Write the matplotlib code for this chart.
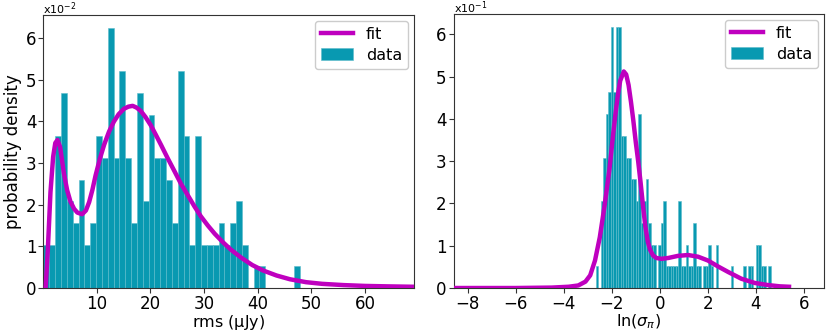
import numpy as np
import matplotlib
matplotlib.use("Agg")
import matplotlib.pyplot as plt
from matplotlib.ticker import FuncFormatter

# ---------------- data ----------------
# left panel: rms histogram (counts per bin) and fitted curve (units of 1e-2)
rms_bin_start = 0.1
rms_bin_width = 1.087
rms_counts = [2, 2, 7, 9, 4, 3, 5, 2, 3, 7, 6, 12, 6, 10, 6, 3, 9, 4, 8, 6,
              6, 5, 3, 10, 7, 2, 7, 2, 2, 2, 3, 2, 3, 4, 2, 0, 1, 1, 0, 0,
              0, 0, 0, 1]
rms_fit_x = [0.5, 0.9, 1.4, 1.9, 2.3, 2.7, 3.2, 3.9, 4.5, 5.1, 5.8, 6.4, 7.3,
             8.0, 8.6, 9.2, 9.8, 10.6, 11.4, 12.3, 13.2, 14.1, 15.1, 15.9,
             16.7, 17.4, 18.2, 19.1, 20.1, 21.0, 22.0, 23.2, 24.5, 25.7,
             27.0, 28.2, 29.4, 30.7, 32.0, 33.5, 35.0, 37.0, 39.0, 41.0,
             43.5, 46.0, 49.0, 52.0, 56.0, 60.0, 64.0, 69.0]
rms_fit_y = [0.0, 0.9, 2.3, 3.15, 3.48, 3.55, 3.38, 2.75, 2.35, 2.08, 1.90,
             1.81, 1.77, 1.86, 2.06, 2.35, 2.70, 3.10, 3.44, 3.75, 3.99, 4.17,
             4.30, 4.35, 4.37, 4.33, 4.25, 4.10, 3.90, 3.68, 3.43, 3.12, 2.80,
             2.50, 2.22, 1.96, 1.72, 1.50, 1.30, 1.10, 0.92, 0.72, 0.55, 0.42,
             0.30, 0.21, 0.14, 0.10, 0.07, 0.05, 0.04, 0.03]

# right panel: ln(sigma_pi) histogram and fitted curve (units of 1e-1)
ls_bin_start = -2.66
ls_bin_width = 0.104
ls_counts = [1, 0, 4, 6, 8, 9, 12, 9, 12, 12, 7, 7, 6, 6, 5, 5, 4, 8, 3, 4,
             5, 3, 2, 2, 0, 2, 3, 4, 1, 1, 1, 1, 1, 4, 1, 1, 2, 1, 1, 3,
             1, 1, 0, 1, 1, 2, 1, 0, 2, 0, 0, 0, 0, 0, 1, 0, 0, 0, 0, 1,
             0, 1, 1, 0, 2, 2, 1, 1, 0, 1]
ls_fit_x = [-8.6, -6.0, -4.5, -3.8, -3.4, -3.1, -2.9, -2.7, -2.5, -2.3,
            -2.1, -1.95, -1.85, -1.75, -1.65, -1.5, -1.4, -1.3, -1.2, -1.1,
            -1.0, -0.9, -0.8, -0.7, -0.6, -0.5, -0.4, -0.28, -0.14, 0.07,
            0.35, 0.76, 1.18, 1.6, 2.01, 2.43, 2.85, 3.4, 3.96, 4.51, 5.0,
            5.39]
ls_fit_y = [0.0, 0.0, 0.01, 0.03, 0.06, 0.15, 0.3, 0.65, 1.2, 1.95, 2.8,
            3.6, 4.1, 4.55, 4.9, 5.12, 5.05, 4.8, 4.4, 3.95, 3.45, 3.0, 2.5,
            1.95, 1.45, 1.1, 0.9, 0.77, 0.71, 0.69, 0.71, 0.76, 0.78, 0.74,
            0.65, 0.51, 0.38, 0.22, 0.12, 0.07, 0.04, 0.03]

# ---------------- style ----------------
BAR = "#0899b1"
EDGE = "#5dbccb"
FIT = "#bf00bf"
FS = 12

plt.rcParams["font.family"] = ["DejaVu Sans"]

fig = plt.figure(figsize=(8.3, 3.33), dpi=100)
axL = fig.add_axes([0.0524, 0.1351, 0.4464, 0.8198])
axR = fig.add_axes([0.5464, 0.1351, 0.4464, 0.8228])


def draw(ax, start, bw, counts, fx, fy, scale):
    edges = start + bw * np.arange(len(counts) + 1)
    centers = 0.5 * (edges[:-1] + edges[1:])
    ax.plot(np.array(fx), np.array(fy) * scale, color=FIT, lw=3.2,
            label="fit", zorder=3)
    ax.hist(centers, bins=edges, weights=counts, density=True,
            color=BAR, edgecolor=EDGE, linewidth=0.4, label="data", zorder=2)
    ax.set_ylim(bottom=0)
    ax.yaxis.set_major_formatter(
        FuncFormatter(lambda v, p: "%d" % round(v / scale)))
    for s in ax.spines.values():
        s.set_color("#333333")
    ax.tick_params(labelsize=FS, length=3.5, color="#333333", pad=1.5)
    ax.legend(loc="upper right", fontsize=11.5, framealpha=1,
              edgecolor="#cccccc", handlelength=2.0, labelspacing=0.35,
              borderaxespad=0.35)
    return ax


def offset_label(ax, txt):
    ax.annotate(txt, xy=(0, 1), xycoords="axes fraction",
                xytext=(0, 1), textcoords="offset points",
                ha="left", va="baseline", fontsize=8)


draw(axL, rms_bin_start, rms_bin_width, rms_counts, rms_fit_x, rms_fit_y, 1e-2)
axL.set_xlim(0.1, 69.1)
axL.set_xticks([10, 20, 30, 40, 50, 60])
axL.set_yticks(np.arange(0, 7) * 1e-2)
axL.set_xlabel(r"rms ($\mathrm{\mu}$Jy)", fontsize=11.5)
axL.xaxis.set_label_coords(0.5, -0.0916)
axL.set_ylabel("probability density", fontsize=FS)
axL.yaxis.set_label_coords(-0.058, 0.5)
offset_label(axL, r"x10$^{-2}$")

draw(axR, ls_bin_start, ls_bin_width, ls_counts, ls_fit_x, ls_fit_y, 1e-1)
axR.set_xlim(-8.6, 6.85)
axR.set_xticks([-8, -6, -4, -2, 0, 2, 4, 6])
axR.set_yticks(np.arange(0, 7) * 1e-1)
axR.set_xlabel(r"ln($\sigma_\pi$)", fontsize=11.5)
axR.xaxis.set_label_coords(0.5, -0.0912)
offset_label(axR, r"x10$^{-1}$")

fig.savefig("out.png", dpi=100)
